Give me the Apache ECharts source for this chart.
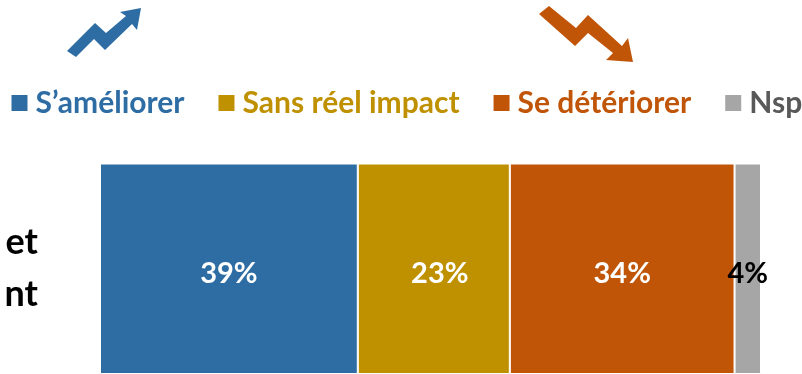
<!DOCTYPE html>
<html>
<head>
<meta charset="utf-8">
<style>html,body{margin:0;padding:0;background:#fff}#c{width:802px;height:374px}</style>
<script src="https://cdn.jsdelivr.net/npm/echarts@6/dist/echarts.min.js"></script>
</head>
<body>
<div id="c"></div>
<script>
const categories = ['et\nnt'];
const seriesNames = ['S’améliorer', 'Sans réel impact', 'Se détériorer', 'Nsp'];
const ameliorer = [39];
const sansImpact = [23];
const deteriorer = [34];
const nsp = [4];
const seriesValues = [ameliorer, sansImpact, deteriorer, nsp];
const colors = ['#2E6DA4', '#BF9000', '#C05508', '#A6A6A6'];
const legendTextColors = ['#2E6DA4', '#BF9000', '#C05508', '#595959'];
const labelColors = ['#fff', '#fff', '#fff', '#000'];
const labelShift = [0, 6, 0, 0];
const FONT = 'Lato, "Open Sans", sans-serif';

const chart = echarts.init(document.getElementById('c'), null, {renderer: 'canvas'});
chart.setOption({
  animation: false,
  backgroundColor: '#fff',
  legend: {
    left: 9.5, top: 88, width: 1000, padding: 0,
    itemWidth: 18, itemHeight: 18, itemGap: 32,
    icon: 'rect',
    selectedMode: false,
    data: seriesNames.map((n, i) => ({
      name: n,
      textStyle: {color: legendTextColors[i], fontFamily: FONT, fontWeight: 'bold', fontSize: 30, padding: [0, 0, 0, 2]}
    }))
  },
  grid: {left: 100, right: 41, top: 163.5, height: 216},
  xAxis: {type: 'value', min: 0, max: 100, show: false},
  yAxis: {
    type: 'category', data: categories,
    axisLine: {show: false}, axisTick: {show: false},
    axisLabel: {color: '#000', fontFamily: FONT, fontWeight: 'bold', fontSize: 36, lineHeight: 52, margin: 62, align: 'right', padding: [0, 0, 6, 0]}
  },
  series: seriesNames.map((n, i) => ({
    name: n, type: 'bar', stack: 'total', barWidth: '100%',
    data: seriesValues[i],
    itemStyle: {color: colors[i], borderColor: '#fff', borderWidth: 1},
    label: {show: true, position: 'inside', offset: [labelShift[i], 5], formatter: '{c}%', color: labelColors[i], fontFamily: FONT, fontWeight: 'bold', fontSize: 29}
  })),
  graphic: [
    {type: 'polygon', shape: {points: [[67,51],[95,23],[106,33],[126,16],[120,12],[141,8],[137,30],[132,24],[105,50],[94,39],[76,57]]}, style: {fill: '#2E6DA4'}},
    {type: 'polygon', shape: {points: [[539,14],[549,6],[576,28],[588,15],[622,46],[628,38],[633,62],[606,60],[613,53],[588,33],[575,46]]}, style: {fill: '#C05508'}}
  ]
});
</script>
</body>
</html>
